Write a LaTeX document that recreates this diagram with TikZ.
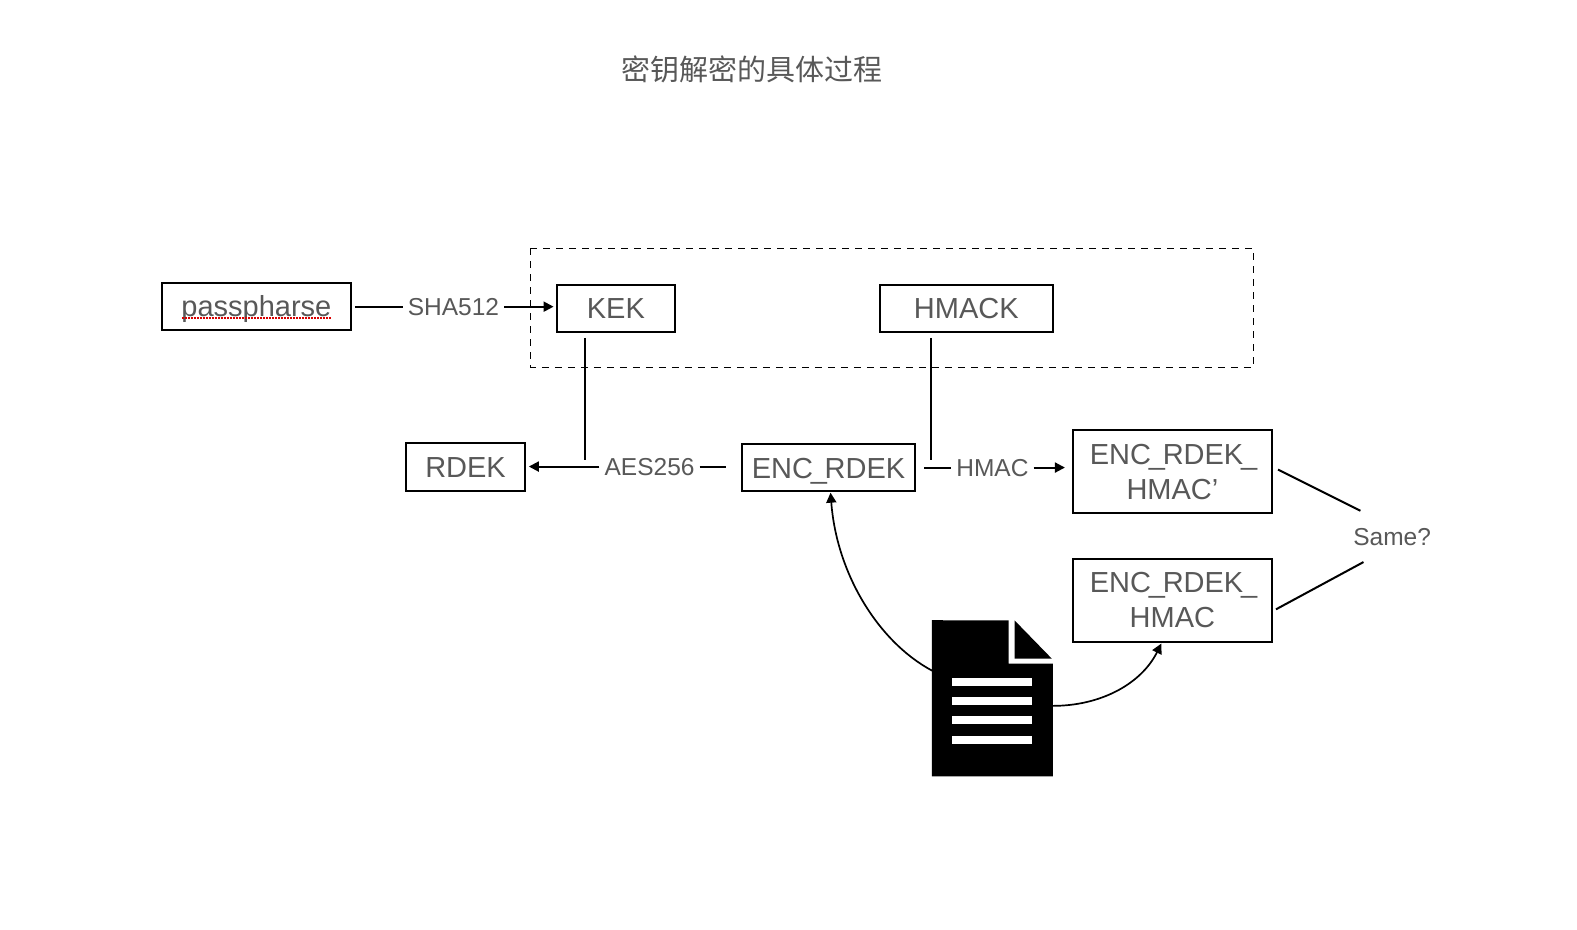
\documentclass[tikz,border=0pt]{standalone}
\usepackage{fontspec}
\setmainfont{Liberation Sans}
\newfontfamily\cjk{Noto Sans CJK SC}
\usetikzlibrary{arrows.meta}
\definecolor{txt}{HTML}{585858}
\newcommand{\uscore}{\kern-2.2pt\_\kern-2.2pt}
\tikzset{
  box/.style={draw=black,line width=2pt,inner sep=0pt,text=txt,align=center,font=\fontsize{29}{35}\selectfont},
  onebox/.style={box,text height=21pt,text depth=0pt},
  lab/.style={inner sep=0pt,text=txt,font=\fontsize{24.5}{30}\selectfont,text height=17.5pt,text depth=0pt},
  link/.style={draw=black,line width=2pt},
  arrowlink/.style={link,-{Triangle[length=10pt,width=10pt]}}
}
\begin{document}
\begin{tikzpicture}[x=1.0055pt,y=-1.0055pt]
\useasboundingbox (0,0) rectangle (1568.37,923.92);
\node[inner sep=0pt,text=txt,font=\cjk\fontsize{29}{35}\selectfont] (title) at (748,69) {密钥解密的具体过程};
\draw[black,line width=1pt,dash pattern=on 7pt off 6pt] (527.5,247) rectangle (1246.5,365);
\node[onebox,minimum width=189pt,minimum height=47.3pt] (pass) at (255,304.5) {passpharse};
\node[onebox,minimum width=118.6pt,minimum height=47.3pt] (kek) at (612.5,306.5) {KEK};
\node[onebox,minimum width=173pt,minimum height=47.3pt] (hmack) at (961,306.5) {HMACK};
\node[onebox,minimum width=118.6pt,minimum height=47.3pt] (rdek) at (463,464.5) {RDEK};
\node[onebox,minimum width=173pt,minimum height=47.3pt] (enc) at (824,465) {ENC\uscore RDEK};
\node[box,minimum width=199pt,minimum height=82.5pt] (encp) at (1166,469) {ENC\uscore RDEK\uscore\\HMAC’};
\node[box,minimum width=199pt,minimum height=82.5pt] (encm) at (1166,597) {ENC\uscore RDEK\uscore\\HMAC};
\node[lab] (sha) at (451,305) {SHA512};
\node[lab] (aes) at (646,464) {AES256};
\node[lab] (hmac) at (987,465) {HMAC};
\node[lab] (same) at (1384.5,534) {Same?};
% spell-check underline
\draw[red!85!black,line width=1.6pt,dash pattern=on 1.6pt off 1.4pt] (181,316.5) -- (330,316.5);
% document icon
\node[inner sep=0pt,minimum width=120.6pt,minimum height=155.8pt] (doc) at (987,694.5) {};
\fill[black] (doc.north west) -- (1003,617) -- (1003,660) -- (1047,660) -- (doc.south east) -- (doc.south west) -- cycle;
\fill[black] (1009,617) -- (1046,655) -- (1009,655) -- cycle;
\foreach \yy in {678,697,716,736} \fill[white] (947,\yy-4) rectangle (1026,\yy+4);
% free ends
\coordinate (kekend) at (582,457);
\coordinate (hmackend) at (926,457);
\coordinate (p1) at (1271,467);
\coordinate (p2) at (1353,508);
\coordinate (q1) at (1269,606);
\coordinate (q2) at (1356,559);
\coordinate (docl) at (927,667);
\coordinate (docr) at (1047,702);
\coordinate (encin) at (826,490);
\coordinate (hin) at (1155,640);
% connectors
\draw[link] (pass.east |- sha.center) ++(3pt,0pt) -- ([xshift=-5pt]sha.west);
\draw[arrowlink] ([xshift=5pt]sha.east) -- ([xshift=-2pt]kek.west |- sha.east);
\draw[link] ([yshift=-5pt]kek.south -| kekend) -- (kekend);
\draw[link] ([yshift=-5pt]hmack.south -| hmackend) -- (hmackend);
\draw[arrowlink] ([xshift=-5pt]aes.west) -- ([xshift=3pt]rdek.east |- aes.west);
\draw[link] ([xshift=5pt]aes.east) -- ([xshift=-15pt]enc.west |- aes.east);
\draw[link] ([xshift=8pt]enc.east |- hmac.west) -- ([xshift=-5pt]hmac.west);
\draw[arrowlink] ([xshift=5pt]hmac.east) -- ([xshift=-7pt]encp.west |- hmac.east);
\draw[link] (p1) -- (p2);
\draw[link] (q1) -- (q2);
\draw[arrowlink,line width=1.7pt] (docl) .. controls (873,638) and (832,570) .. (encin);
\draw[arrowlink,line width=1.7pt] (docr) .. controls (1095,702) and (1135,680) .. (hin);
\end{tikzpicture}
\end{document}
